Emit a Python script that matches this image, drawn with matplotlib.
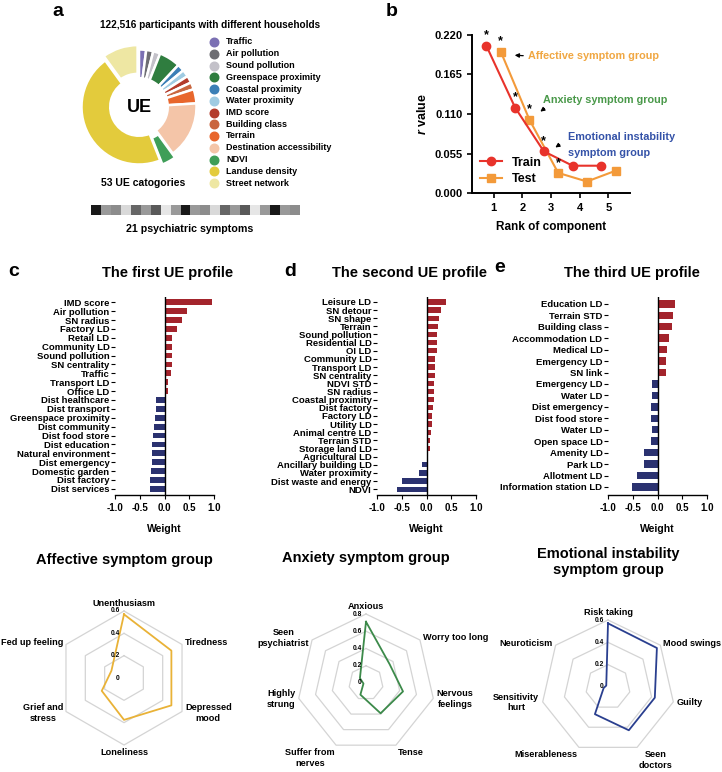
import numpy as np
import matplotlib
matplotlib.use("Agg")
import matplotlib.pyplot as plt

W, H = 722, 772

plt.rcParams["font.family"] = ["Liberation Sans", "DejaVu Sans"]
plt.rcParams["font.weight"] = "bold"
plt.rcParams["axes.labelweight"] = "bold"
plt.rcParams["mathtext.fontset"] = "custom"
plt.rcParams["mathtext.it"] = "Liberation Sans:italic:bold"
plt.rcParams["mathtext.rm"] = "Liberation Sans:bold"

# ---- panel a: UE categories + symptom strip
UE_GROUPS = ["Traffic", "Air pollution", "Sound pollution", "Greenspace proximity",
             "Coastal proximity", "Water proximity", "IMD score", "Building class",
             "Terrain", "Destination accessibility", "NDVI", "Landuse density",
             "Street network"]
UE_COUNTS = [1, 1, 1, 3, 1, 1, 1, 1, 2, 8, 2, 23, 5]
UE_COLORS = ["#7b70b3", "#6d6d72", "#c3c1c9", "#2f7d3f", "#3b7fb6", "#9fcbe2",
             "#b33b2b", "#c9663f", "#e8662c", "#f4c5a8", "#3f9e58", "#e3cb3c", "#eee7a3"]
SYMPTOM_SHADES = [0.1, 0.6, 0.55, 0.85, 0.4, 0.6, 0.35, 0.9, 0.6, 0.1, 0.6,
                  0.55, 0.85, 0.4, 0.6, 0.35, 0.9, 0.6, 0.1, 0.6, 0.55]

# ---- panel b: r value per component
RANKS = [1, 2, 3, 4, 5]
R_TRAIN = [0.205, 0.119, 0.058, 0.038, 0.038]
R_TEST = [0.197, 0.102, 0.028, 0.016, 0.031]
SIGNIF = [True, True, True, False, False]

# ---- panels c-e: UE profile weights
P1_LABELS = ["IMD score", "Air pollution", "SN radius", "Factory LD", "Retail LD",
             "Community LD", "Sound pollution", "SN centrality", "Traffic", "Transport LD",
             "Office LD", "Dist healthcare", "Dist transport", "Greenspace proximity",
             "Dist community", "Dist food store", "Dist education", "Natural environment",
             "Dist emergency", "Domestic garden", "Dist factory", "Dist services"]
P1_WEIGHTS = [0.96, 0.46, 0.35, 0.26, 0.15, 0.15, 0.15, 0.15, 0.14, 0.08, 0.08,
              -0.17, -0.18, -0.20, -0.21, -0.24, -0.26, -0.26, -0.26, -0.28, -0.29, -0.29]

P2_LABELS = ["Leisure LD", "SN detour", "SN shape", "Terrain", "Sound pollution",
             "Residential LD", "OI LD", "Community LD", "Transport LD", "SN centrality",
             "NDVI STD", "SN radius", "Coastal proximity", "Dist factory", "Factory LD",
             "Utility LD", "Animal centre LD", "Terrain STD", "Storage land LD",
             "Agricultural LD", "Ancillary building LD", "Water proximity",
             "Dist waste and energy", "NDVI"]
P2_WEIGHTS = [0.40, 0.30, 0.26, 0.24, 0.22, 0.21, 0.21, 0.18, 0.18, 0.17, 0.15, 0.15,
              0.15, 0.13, 0.11, 0.11, 0.10, 0.08, 0.08, 0.04, -0.10, -0.15, -0.50, -0.60]

P3_LABELS = ["Education LD", "Terrain STD", "Building class", "Accommodation LD",
             "Medical LD", "Emergency LD", "SN link", "Emergency LD", "Water LD",
             "Dist emergency", "Dist food store", "Water LD", "Open space LD",
             "Amenity LD", "Park LD", "Allotment LD", "Information station LD"]
P3_WEIGHTS = [0.36, 0.32, 0.29, 0.23, 0.19, 0.18, 0.17, -0.11, -0.12, -0.13, -0.13,
              -0.12, -0.14, -0.28, -0.28, -0.42, -0.51]

# ---- radar charts: symptom loadings
AFF_LABELS = ["Unenthusiasm", "Tiredness", "Depressed\nmood", "Loneliness",
              "Grief and\nstress", "Fed up feeling"]
AFF_VALUES = [0.57, 0.49, 0.49, 0.375, 0.23, 0.13]
ANX_LABELS = ["Anxious", "Worry too long", "Nervous\nfeelings", "Tense",
              "Suffer from\nnerves", "Highly\nstrung", "Seen\npsychiatrist"]
ANX_VALUES = [0.71, 0.35, 0.44, 0.39, 0.15, 0.03, 0.09]
EMO_LABELS = ["Risk taking", "Mood swings", "Guilty", "Seen\ndoctors",
              "Miserableness", "Sensitivity\nhurt", "Neuroticism"]
EMO_VALUES = [0.57, 0.56, 0.43, 0.43, 0.27, 0.04, 0.02]

RED, NAVY = "#a3242c", "#2b3270"


def rect(x0, y0, x1, y1):
    """pixel box (top-left origin) -> figure fraction rect"""
    return [x0 / W, 1 - y1 / H, (x1 - x0) / W, (y1 - y0) / H]


fig = plt.figure(figsize=(W / 100, H / 100), dpi=100)
ov = fig.add_axes([0, 0, 1, 1])
ov.set_xlim(0, W)
ov.set_ylim(H, 0)
ov.axis("off")

# panel letters
for ch, x, y in [("a", 58, 12), ("b", 392, 12), ("c", 14, 272), ("d", 290, 272), ("e", 500, 268)]:
    ov.text(x, y, ch, fontsize=14, ha="center", va="center")

# ---------------- panel a
ov.text(210, 25, "122,516 participants with different households", fontsize=7.2,
        ha="center", va="center")
ax = fig.add_axes(rect(139 - 69, 107 - 69, 139 + 69, 107 + 69))
explode = [0.08 if g in ("NDVI", "Street network") else 0 for g in UE_GROUPS]
ax.pie(UE_COUNTS, colors=UE_COLORS, startangle=90, counterclock=False, explode=explode,
       wedgeprops=dict(width=0.5, edgecolor="white", linewidth=1.8))
ax.set_xlim(-1.2, 1.2)
ax.set_ylim(-1.2, 1.2)
ax.text(0, 0, "UE", fontsize=13, ha="center", va="center")

for i, (g, c) in enumerate(zip(UE_GROUPS, UE_COLORS)):
    y = 42 + i * 11.75
    ov.scatter(214, y, s=38, color=c, zorder=3)
    ov.text(226, y, g, fontsize=6.5, ha="left", va="center")
ov.text(143, 183, "53 UE catogories", fontsize=7.5, ha="center", va="center")

ax = fig.add_axes(rect(91, 205, 300, 215))
ax.imshow([SYMPTOM_SHADES], cmap="gray", vmin=0, vmax=1, aspect="auto")
ax.axis("off")
ov.text(190, 229, "21 psychiatric symptoms", fontsize=7.7, ha="center", va="center")

# ---------------- panel b
ax = fig.add_axes(rect(472, 35, 630, 193))
xt = np.array(RANKS) - 0.25
xs = np.array(RANKS) + 0.25
ax.plot(xt, R_TRAIN, "-o", color="#e8332b", ms=6, lw=1.5, label="Train", zorder=3)
ax.plot(xs, R_TEST, "-s", color="#f39a3a", ms=6, lw=1.5, label="Test", zorder=2)
for x, y, s in list(zip(xt, R_TRAIN, SIGNIF)) + list(zip(xs, R_TEST, SIGNIF)):
    if s:
        ax.annotate("*", xy=(x, y), xytext=(0, 3), textcoords="offset points",
                    ha="center", va="bottom", fontsize=9)
ax.set_xlim(0.25, 5.75)
ax.set_ylim(0, 0.22)
ax.set_xticks(RANKS)
ax.set_yticks([0, 0.055, 0.11, 0.165, 0.22])
ax.set_yticklabels([f"{v:.3f}" for v in [0, 0.055, 0.11, 0.165, 0.22]])
ax.tick_params(labelsize=8, width=1.2, length=3.5)
for sp in ("top", "right"):
    ax.spines[sp].set_visible(False)
for sp in ("left", "bottom"):
    ax.spines[sp].set_linewidth(1.4)
ax.set_xlabel("Rank of component", fontsize=8.5, labelpad=6)
ax.set_ylabel(r"$\it{r}$ value", fontsize=9, labelpad=4)
ax.legend(loc="lower left", frameon=False, fontsize=9, handlelength=1.8,
          borderaxespad=0.2, labelspacing=0.4, handletextpad=0.8)

arrow = dict(arrowstyle="-|>", color="black", lw=0.9, mutation_scale=6)
ax.annotate("", xy=(1.64, 0.192), xytext=(2.13, 0.191), arrowprops=arrow)
ax.text(2.21, 0.191, "Affective symptom group", color="#f0a742", fontsize=7.8,
        ha="left", va="center", clip_on=False)
ax.annotate("", xy=(2.55, 0.111), xytext=(2.85, 0.120), arrowprops=arrow)
ax.text(2.72, 0.129, "Anxiety symptom group", color="#4a994a", fontsize=7.8,
        ha="left", va="center", clip_on=False)
ax.annotate("", xy=(3.07, 0.0612), xytext=(3.38, 0.0696), arrowprops=arrow)
ax.text(3.59, 0.078, "Emotional instability", color="#3452a8", fontsize=7.8,
        ha="left", va="center", clip_on=False)
ax.text(3.59, 0.056, "symptom group", color="#3452a8", fontsize=7.8,
        ha="left", va="center", clip_on=False)


# ---------------- panels c-e
def profile(box, labels, weights, title, tx, ty):
    ax = fig.add_axes(rect(*box))
    n = len(labels)
    pos = np.arange(n)
    ax.barh(pos, weights, height=0.65, color=[RED if w > 0 else NAVY for w in weights])
    ax.axvline(0, color="black", lw=1.0)
    ax.set_ylim(n - 0.3, -0.6)
    ax.set_xlim(-1, 1)
    ax.set_yticks(pos)
    ax.set_yticklabels(labels, fontsize=6.8)
    ax.set_xticks([-1, -0.5, 0, 0.5, 1])
    ax.set_xticklabels(["-1.0", "-0.5", "0.0", "0.5", "1.0"], fontsize=7)
    ax.tick_params(axis="y", length=3, width=0.8, pad=1)
    ax.tick_params(axis="x", length=3, width=0.8, pad=3)
    for sp in ("top", "right", "left"):
        ax.spines[sp].set_visible(False)
    ax.spines["bottom"].set_linewidth(1.0)
    ax.set_xlabel("Weight", fontsize=7.5, labelpad=8)
    ov.text(tx, ty, title, fontsize=10.5, ha="center", va="center")


profile((115, 297, 214, 495), P1_LABELS, P1_WEIGHTS, "The first UE profile", 168, 273)
profile((377, 297, 476, 495), P2_LABELS, P2_WEIGHTS, "The second UE profile", 410, 273)
profile((608, 297, 707, 495), P3_LABELS, P3_WEIGHTS, "The third UE profile", 632, 273)


# ---------------- radar charts
def radar(cx, cy, rpx, rticks, labels, values, color, title, ty):
    rmax = rticks[-1]
    ax = fig.add_axes(rect(cx - rpx, cy - rpx, cx + rpx, cy + rpx), polar=True)
    ax.set_theta_offset(np.pi / 2)
    ax.set_theta_direction(-1)
    ax.set_ylim(0, rmax)
    ax.set_xticks([])
    ax.set_yticks([])
    ax.grid(False)
    ax.spines["polar"].set_visible(False)
    ax.patch.set_visible(False)
    n = len(labels)
    th = np.linspace(0, 2 * np.pi, n, endpoint=False)
    thc = np.append(th, th[0])
    for r in rticks[1:]:
        ax.plot(thc, [r] * (n + 1), color="#d4d4d4", lw=0.9, clip_on=False)
    for r in rticks:
        ax.annotate(f"{r:g}", xy=(0, r), xytext=(-3, 0), textcoords="offset points",
                    fontsize=4.8, ha="right", va="center")
    ax.plot(thc, np.append(values, values[0]), color=color, lw=1.3, clip_on=False)
    for t, lab in zip(th, labels):
        a = np.pi / 2 - t
        c, s = np.cos(a), np.sin(a)
        ha = "left" if c > 0.2 else ("right" if c < -0.2 else "center")
        va = "bottom" if s > 0.9 else ("top" if s < -0.6 else "center")
        ax.text(t, rmax * 1.05, lab, ha=ha, va=va, fontsize=6.6, multialignment="center")
    ov.text(cx, ty, title, fontsize=10.5, ha="center", va="center", linespacing=1.1)


radar(124, 678, 67, [0, 0.2, 0.4, 0.6], AFF_LABELS, AFF_VALUES, "#e9b237",
      "Affective symptom group", 560)
radar(366, 683, 69, [0, 0.2, 0.4, 0.6, 0.8], ANX_LABELS, ANX_VALUES, "#3c8a4a",
      "Anxiety symptom group", 558)
radar(608, 687, 67, [0, 0.2, 0.4, 0.6], EMO_LABELS, EMO_VALUES, "#2a3f8f",
      "Emotional instability\nsymptom group", 562)

fig.savefig("out.png", dpi=100)
